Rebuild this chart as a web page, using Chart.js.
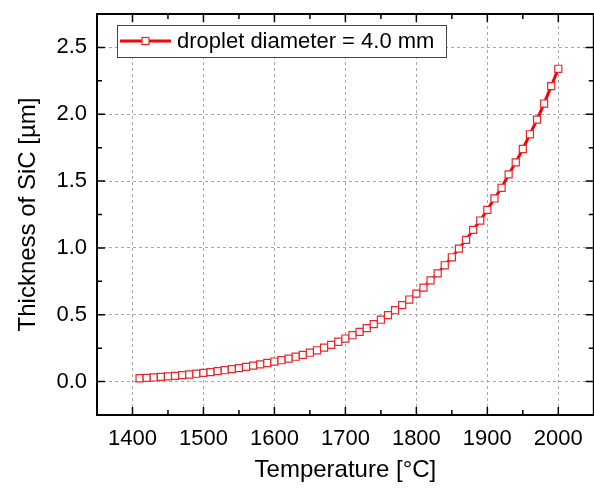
<!DOCTYPE html>
<html>
<head>
<meta charset="utf-8">
<script src="https://cdn.jsdelivr.net/npm/chart.js@4"></script>
<style>
  html, body { margin: 0; padding: 0; background: #fff; overflow: hidden; }
  #chart { display: block; }
</style>
</head>
<body>
<canvas id="chart" width="600" height="489"></canvas>
<script>
// temperature in °C
const temperature = [
    1410, 1420, 1430, 1440, 1450, 1460, 1470, 1480, 1490, 1500,
    1510, 1520, 1530, 1540, 1550, 1560, 1570, 1580, 1590, 1600,
    1610, 1620, 1630, 1640, 1650, 1660, 1670, 1680, 1690, 1700,
    1710, 1720, 1730, 1740, 1750, 1760, 1770, 1780, 1790, 1800,
    1810, 1820, 1830, 1840, 1850, 1860, 1870, 1880, 1890, 1900,
    1910, 1920, 1930, 1940, 1950, 1960, 1970, 1980, 1990, 2000
];
// thickness of SiC in µm
const thickness = [
    0.025, 0.028, 0.031, 0.035, 0.039, 0.043, 0.048, 0.053, 0.059, 0.065,
    0.071, 0.078, 0.085, 0.093, 0.101, 0.110, 0.119, 0.129, 0.139, 0.150,
    0.160, 0.172, 0.186, 0.200, 0.216, 0.234, 0.254, 0.275, 0.298, 0.322,
    0.347, 0.372, 0.400, 0.430, 0.463, 0.497, 0.534, 0.572, 0.614, 0.658,
    0.703, 0.757, 0.810, 0.870, 0.930, 0.995, 1.060, 1.135, 1.205, 1.285,
    1.370, 1.450, 1.550, 1.640, 1.740, 1.850, 1.960, 2.080, 2.210, 2.340
];
const seriesLabel = 'droplet diameter = 4.0 mm';

const xTicks = [1400, 1500, 1600, 1700, 1800, 1900, 2000];
const xMinorTicks = [1450, 1550, 1650, 1750, 1850, 1950];
const yTicks = [0.0, 0.5, 1.0, 1.5, 2.0, 2.5];
const yMinorTicks = [0.25, 0.75, 1.25, 1.75, 2.25];

const FONT = 'Arial, "Liberation Sans", sans-serif';

// inward ticks on all four sides + black frame
const frameTicks = {
    id: 'frameTicks',
    afterDatasetsDraw(chart) {
        const ctx = chart.ctx;
        const a = chart.chartArea;
        const x = chart.scales.x, y = chart.scales.y;
        ctx.save();
        ctx.strokeStyle = '#000';
        ctx.lineWidth = 1.5;
        ctx.beginPath();
        const tx = (v, len) => {
            const p = x.getPixelForValue(v);
            ctx.moveTo(p, a.bottom); ctx.lineTo(p, a.bottom - len);
            ctx.moveTo(p, a.top); ctx.lineTo(p, a.top + len);
        };
        const ty = (v, len) => {
            const p = y.getPixelForValue(v);
            ctx.moveTo(a.left, p); ctx.lineTo(a.left + len, p);
            ctx.moveTo(a.right, p); ctx.lineTo(a.right - len, p);
        };
        xTicks.forEach(v => tx(v, 8));
        xMinorTicks.forEach(v => tx(v, 5));
        yTicks.forEach(v => ty(v, 8));
        yMinorTicks.forEach(v => ty(v, 5));
        ctx.stroke();
        ctx.lineWidth = 2;
        ctx.strokeRect(a.left, a.top, a.right - a.left, a.bottom - a.top);
        ctx.restore();
    },
    afterDraw(chart) {
        // legend box inside the plot, top left
        const ctx = chart.ctx;
        const ds = chart.data.datasets[0];
        const bx = 117, by = 25, bw = 329, bh = 32;
        ctx.save();
        ctx.fillStyle = '#fff';
        ctx.fillRect(bx, by, bw, bh);
        ctx.strokeStyle = '#444';
        ctx.lineWidth = 1;
        ctx.strokeRect(bx + 0.5, by + 0.5, bw, bh);
        const cy = by + bh / 2;
        ctx.strokeStyle = ds.borderColor;
        ctx.lineWidth = 3;
        ctx.beginPath();
        ctx.moveTo(bx + 3, cy); ctx.lineTo(bx + 54, cy);
        ctx.stroke();
        ctx.fillStyle = '#fff';
        ctx.strokeStyle = ds.pointBorderColor;
        ctx.lineWidth = 1.2;
        ctx.fillRect(bx + 25, cy - 3.5, 7, 7);
        ctx.strokeRect(bx + 25, cy - 3.5, 7, 7);
        ctx.fillStyle = '#000';
        ctx.font = '22px ' + FONT;
        ctx.textBaseline = 'middle';
        ctx.fillText(ds.label, bx + 60, cy + 1);
        ctx.restore();
    }
};

const config = {
    type: 'scatter',
    data: {
        datasets: [{
            label: seriesLabel,
            data: temperature.map((t, i) => ({ x: t, y: thickness[i] })),
            showLine: true,
            borderColor: '#ff0000',
            borderWidth: 3,
            pointStyle: 'rect',
            pointRadius: 5,
            pointBorderWidth: 1.2,
            pointBorderColor: '#e8262a',
            pointBackgroundColor: '#ffffff',
            tension: 0
        }]
    },
    options: {
        responsive: false,
        animation: false,
        devicePixelRatio: 1,
        layout: { padding: { left: 0, top: 14, right: 4, bottom: 0 } },
        plugins: {
            legend: { display: false },
            tooltip: { enabled: false }
        },
        scales: {
            x: {
                type: 'linear',
                min: 1350,
                max: 2050,
                afterBuildTicks: s => { s.ticks = xTicks.map(v => ({ value: v })); },
                afterFit: s => { s.height = 74; s.paddingLeft = 0; s.paddingRight = 0; },
                grid: { color: '#a8a8a8', lineWidth: 1, drawTicks: false },
                border: { display: false, dash: [3, 3] },
                ticks: {
                    color: '#000',
                    padding: 11,
                    font: { family: FONT, size: 22 },
                    callback: v => String(v)
                },
                title: {
                    display: true,
                    text: 'Temperature [°C]',
                    color: '#000',
                    font: { family: FONT, size: 24 },
                    padding: { top: 0, bottom: 4 }
                }
            },
            y: {
                min: -0.25,
                max: 2.75,
                afterBuildTicks: s => { s.ticks = yTicks.map(v => ({ value: v })); },
                afterFit: s => { s.width = 97; s.paddingTop = 0; s.paddingBottom = 0; },
                grid: { color: '#a8a8a8', lineWidth: 1, drawTicks: false },
                border: { display: false, dash: [3, 3] },
                ticks: {
                    color: '#000',
                    padding: 10,
                    font: { family: FONT, size: 22 },
                    callback: v => v.toFixed(1)
                },
                title: {
                    display: true,
                    text: 'Thickness of SiC [µm]',
                    color: '#000',
                    font: { family: FONT, size: 24 },
                    padding: { top: 14, bottom: 0 }
                }
            }
        }
    },
    plugins: [frameTicks]
};

var chartThickness = new Chart(document.getElementById('chart'), config);
</script>
</body>
</html>
